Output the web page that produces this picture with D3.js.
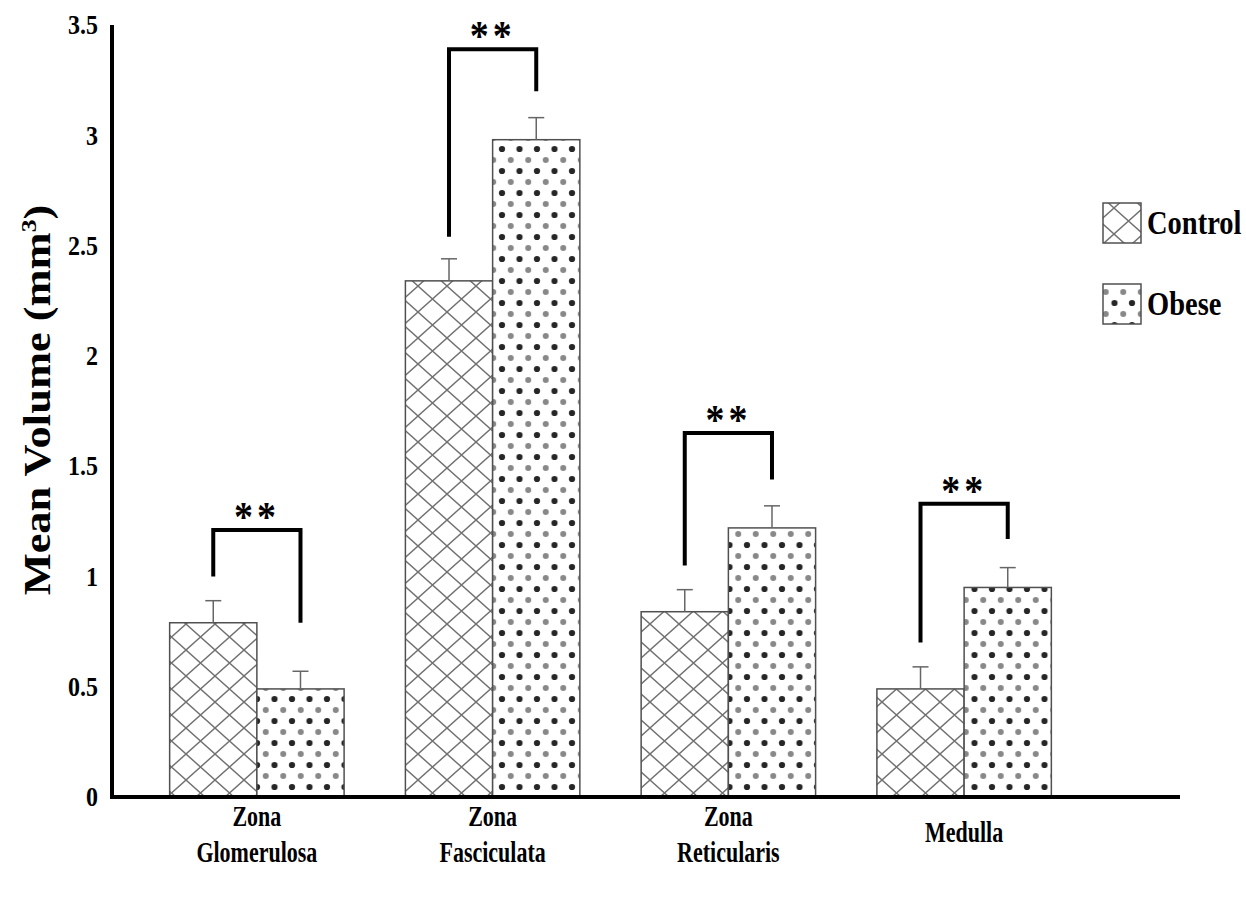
<!DOCTYPE html>
<html>
<head>
<meta charset="utf-8">
<script src="https://cdn.jsdelivr.net/npm/d3@7"></script>
<style>
  body { margin: 0; background: #fff; }
  text { font-family: "Liberation Serif", "Times New Roman", serif; }
</style>
</head>
<body>
<svg id="chart" width="1246" height="898"></svg>
<script>
// data
const categories = [["Zona", "Glomerulosa"], ["Zona", "Fasciculata"], ["Zona", "Reticularis"], ["Medulla"]];
const groups = ["Control", "Obese"];
const controlMean = [0.79, 2.34, 0.84, 0.49];
const controlErr = [0.10, 0.10, 0.10, 0.10];
const obeseMean = [0.49, 2.98, 1.22, 0.95];
const obeseErr = [0.08, 0.10, 0.10, 0.09];
const sigLabels = ["**", "**", "**", "**"];
const bracketTop = [1.21, 3.39, 1.65, 1.33];
const bracketLeftEnd = [1.00, 2.54, 1.05, 0.70];
const bracketRightEnd = [0.79, 3.20, 1.44, 1.17];
const yTicks = [0, 0.5, 1, 1.5, 2, 2.5, 3, 3.5];

const svg = d3.select("#chart");
const defs = svg.append("defs");

// crosshatch for control
const hatch = defs.append("pattern")
    .attr("id", "hatch")
    .attr("patternUnits", "userSpaceOnUse")
    .attr("width", 29).attr("height", 26)
    .attr("x", 12).attr("y", 0);
hatch.append("rect").attr("width", 29).attr("height", 26).attr("fill", "#fff");
hatch.append("path")
    .attr("d", "M0,0L29,26M29,0L0,26")
    .attr("stroke", "#707070").attr("stroke-width", 1.4).attr("fill", "none");

// dots for obese
const dots = defs.append("pattern")
    .attr("id", "dots")
    .attr("patternUnits", "userSpaceOnUse")
    .attr("width", 17.5).attr("height", 22)
    .attr("x", 257).attr("y", 0);
dots.append("rect").attr("width", 17.5).attr("height", 22).attr("fill", "#fff");
dots.append("circle").attr("cx", 8.75).attr("cy", 6).attr("r", 3).attr("fill", "#888");
dots.append("circle").attr("cx", 0).attr("cy", 17).attr("r", 3.1).attr("fill", "#262626");
dots.append("circle").attr("cx", 17.5).attr("cy", 17).attr("r", 3.1).attr("fill", "#262626");

const fills = { Control: "url(#hatch)", Obese: "url(#dots)" };

const x = d3.scaleBand()
    .domain(d3.range(categories.length))
    .range([139, 1082])
    .paddingInner(0.26)
    .paddingOuter(0.13);

const xSub = d3.scaleBand()
    .domain(groups)
    .range([0, x.bandwidth()]);

const y = d3.scaleLinear().domain([0, 3.5]).range([797, 25]);

let rows = [];
categories.forEach(function (c, i) {
    rows.push({ cat: i, group: "Control", mean: controlMean[i], err: controlErr[i] });
    rows.push({ cat: i, group: "Obese", mean: obeseMean[i], err: obeseErr[i] });
});

// bars
svg.append("g").selectAll("rect")
    .data(rows)
    .join("rect")
    .attr("x", d => x(d.cat) + xSub(d.group))
    .attr("y", d => y(d.mean))
    .attr("width", xSub.bandwidth())
    .attr("height", d => y(0) - y(d.mean))
    .attr("fill", d => fills[d.group])
    .attr("stroke", "#505050")
    .attr("stroke-width", 1.5);

// error bars (upper only)
const eb = svg.append("g").attr("stroke", "#666").attr("stroke-width", 1.5);
rows.forEach(function (d) {
    let cx = x(d.cat) + xSub(d.group) + xSub.bandwidth() / 2;
    eb.append("line")
        .attr("x1", cx).attr("x2", cx)
        .attr("y1", y(d.mean)).attr("y2", y(d.mean + d.err));
    eb.append("line")
        .attr("x1", cx - 8).attr("x2", cx + 8)
        .attr("y1", y(d.mean + d.err)).attr("y2", y(d.mean + d.err));
});

// significance brackets
categories.forEach(function (c, i) {
    let lx = x(i) + xSub("Control") + xSub.bandwidth() / 2;
    let rx = x(i) + xSub("Obese") + xSub.bandwidth() / 2;
    svg.append("path")
        .attr("d", "M" + lx + "," + y(bracketLeftEnd[i]) + "V" + y(bracketTop[i]) + "H" + rx + "V" + y(bracketRightEnd[i]))
        .attr("fill", "none")
        .attr("stroke", "#000")
        .attr("stroke-width", 4);
    svg.append("text")
        .attr("transform", "translate(" + ((lx + rx) / 2) + "," + (y(bracketTop[i]) + 1) + ") scale(1,1.1)")
        .attr("text-anchor", "middle")
        .style("font-size", "38px")
        .style("font-weight", "bold")
        .style("letter-spacing", "4px")
        .text(sigLabels[i]);
});

// axes
const yAxis = svg.append("g")
    .attr("transform", "translate(112,0)")
    .call(d3.axisLeft(y).tickValues(yTicks).tickSize(0).tickPadding(14).tickFormat(d => String(d)));
yAxis.select(".domain").attr("stroke", "#000").attr("stroke-width", 4).attr("d", "M0," + (y(0) + 2) + "V" + y(3.5));
yAxis.selectAll("text")
    .attr("transform", "scale(1,1.15)")
    .style("font-size", "24px")
    .style("font-weight", "bold")
    .style("font-family", "'Liberation Serif', serif");

svg.append("line")
    .attr("x1", 110).attr("x2", 1180)
    .attr("y1", y(0)).attr("y2", y(0))
    .attr("stroke", "#000").attr("stroke-width", 4);

// category labels
categories.forEach(function (c, i) {
    let cx = x(i) + x.bandwidth() / 2;
    c.forEach(function (line, j) {
        let ly = c.length === 1 ? 842 : 826 + j * 36;
        svg.append("text")
            .attr("transform", "translate(" + cx + "," + ly + ") scale(1,1.3)")
            .attr("text-anchor", "middle")
            .style("font-size", "22px")
            .style("font-weight", "bold")
            .text(line);
    });
});

// y title
const yt = svg.append("text")
    .attr("transform", "translate(50,400) rotate(-90) scale(1.17,1)")
    .attr("text-anchor", "middle")
    .style("font-size", "38px")
    .style("font-weight", "bold")
    .text("Mean Volume (mm");
yt.append("tspan").attr("dy", -14).style("font-size", "22px").text("3");
yt.append("tspan").attr("dy", 14).text(")");

// legend
const legend = svg.append("g");
groups.forEach(function (g, i) {
    let ly = 203 + i * 81;
    legend.append("rect")
        .attr("x", 1103).attr("y", ly)
        .attr("width", 38).attr("height", 40)
        .attr("fill", fills[g])
        .attr("stroke", "#505050").attr("stroke-width", 1.5);
    legend.append("text")
        .attr("transform", "translate(1147," + (ly + 31) + ") scale(1,1.2)")
        .style("font-size", "28.5px")
        .style("font-weight", "bold")
        .text(g);
});
</script>
</body>
</html>
